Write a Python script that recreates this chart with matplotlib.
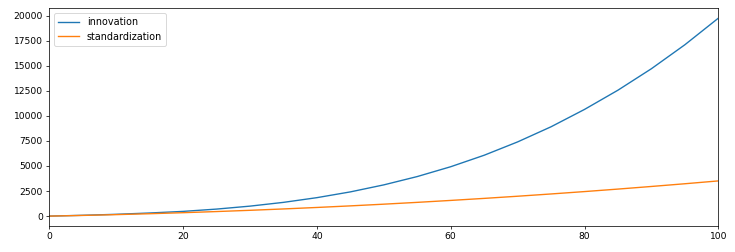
import matplotlib
matplotlib.use("Agg")
import matplotlib.pyplot as plt

x = [0, 5, 10, 15, 20, 25, 30, 35, 40, 45, 50, 55, 60, 65, 70, 75, 80, 85, 90, 95, 100]
innovation = [0, 80, 180, 310, 470, 700, 995, 1370, 1840, 2415, 3115, 3945, 4925,
              6070, 7400, 8910, 10640, 12560, 14700, 17090, 19740]
standardization = [0, 68, 148, 238, 340, 454, 578, 714, 862, 1020, 1190, 1371, 1564,
                   1767, 1982, 2209, 2446, 2695, 2956, 3227, 3510]

DPI = 66
fig = plt.figure(figsize=(735 / DPI, 252 / DPI), dpi=DPI)
ax = fig.add_axes([49.3 / 735, 1 - 226 / 252, (718.3 - 49.3) / 735, (226 - 8.3) / 252])
ax.plot(x, innovation, color="#1f77b4", lw=1.5, label="innovation")
ax.plot(x, standardization, color="#ff7f0e", lw=1.5, label="standardization")
ax.set_xlim(0, 100)
ax.set_xticks([0, 20, 40, 60, 80, 100])
ax.set_yticks([0, 2500, 5000, 7500, 10000, 12500, 15000, 17500, 20000])
ax.legend(loc="upper left", fontsize=10.5, handlelength=2.2)
fig.savefig("out.png", dpi=DPI)
